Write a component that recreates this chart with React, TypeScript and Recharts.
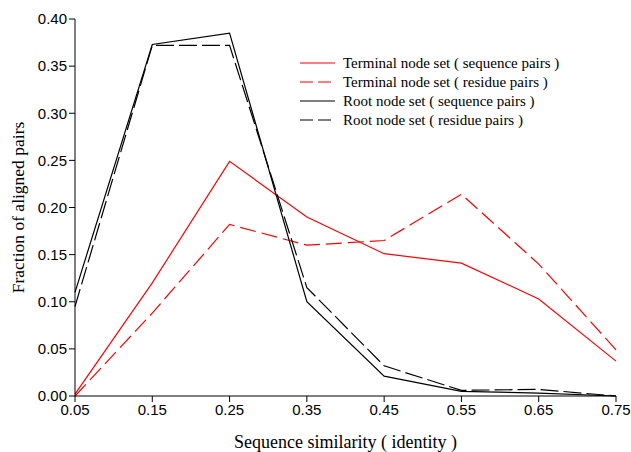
import React from 'react';
import { LineChart, Line, XAxis, YAxis } from 'recharts';

const similarity = [0.05, 0.15, 0.25, 0.35, 0.45, 0.55, 0.65, 0.75];
const terminalSequence = [0.002, 0.12, 0.249, 0.19, 0.151, 0.141, 0.103, 0.037];
const terminalResidue = [0.0, 0.088, 0.182, 0.16, 0.165, 0.214, 0.14, 0.049];
const rootSequence = [0.11, 0.373, 0.385, 0.1, 0.021, 0.005, 0.003, 0.0];
const rootResidue = [0.095, 0.372, 0.372, 0.115, 0.032, 0.006, 0.007, 0.0];
const yTicks = [0, 0.05, 0.1, 0.15, 0.2, 0.25, 0.3, 0.35, 0.4];

const data = similarity.map((x, i) => ({
  x,
  ts: terminalSequence[i],
  tr: terminalResidue[i],
  rs: rootSequence[i],
  rr: rootResidue[i],
}));

const series = [
  { key: 'ts', name: 'Terminal node set ( sequence pairs )', color: '#ff0000', dash: undefined },
  { key: 'tr', name: 'Terminal node set ( residue pairs )', color: '#ff0000', dash: '16 6' },
  { key: 'rs', name: 'Root node set ( sequence pairs )', color: '#000000', dash: undefined },
  { key: 'rr', name: 'Root node set ( residue pairs )', color: '#000000', dash: '18 5' },
];

const serif = '"Liberation Serif", "Times New Roman", serif';
const sans = '"Liberation Sans", Arial, sans-serif';

// legend drawn as an overlay so the chart keeps its full plot height
function LegendBox() {
  return (
    <svg width={300} height={80} style={{ position: 'absolute', left: 300, top: 55 }}>
      {series.map((s, i) => (
        <g key={s.key} transform={`translate(0, ${8 + i * 19})`}>
          <line x1={0} x2={35} y1={0} y2={0} stroke={s.color} strokeWidth={1.2} strokeDasharray={s.dash ? '13 5' : undefined} />
          <text x={43} y={5} fontFamily={serif} fontSize={15} fill="#000">{s.name}</text>
        </g>
      ))}
    </svg>
  );
}

export default function App() {
  return (
    <div style={{ position: 'absolute', left: 0, top: 0, width: 631, height: 452, background: '#fff' }}>
      <LineChart width={631} height={452} data={data} margin={{ top: 19, right: 15, bottom: 0, left: 0 }}>
        <XAxis
          dataKey="x"
          type="number"
          domain={[0.05, 0.75]}
          ticks={similarity}
          tickFormatter={(v: number) => v.toFixed(2)}
          height={56}
          stroke="#000"
          tickSize={6}
          tick={{ fill: '#000', fontFamily: sans, fontSize: 15 }}
          label={{ value: 'Sequence similarity ( identity )', position: 'insideBottom', offset: 4, fill: '#000', fontFamily: serif, fontSize: 18 }}
        />
        <YAxis
          type="number"
          domain={[0, 0.4]}
          ticks={yTicks}
          tickFormatter={(v: number) => v.toFixed(2)}
          width={75}
          stroke="#000"
          tickSize={6}
          tick={{ fill: '#000', fontFamily: sans, fontSize: 15 }}
          label={{ value: 'Fraction of aligned pairs', angle: -90, position: 'insideLeft', offset: 18, fill: '#000', fontFamily: serif, fontSize: 17.5, style: { textAnchor: 'middle' } }}
        />
        {series.map((s) => (
          <Line
            key={s.key}
            dataKey={s.key}
            name={s.name}
            stroke={s.color}
            strokeWidth={1.2}
            strokeDasharray={s.dash}
            dot={false}
            type="linear"
            isAnimationActive={false}
          />
        ))}
      </LineChart>
      <LegendBox />
    </div>
  );
}
